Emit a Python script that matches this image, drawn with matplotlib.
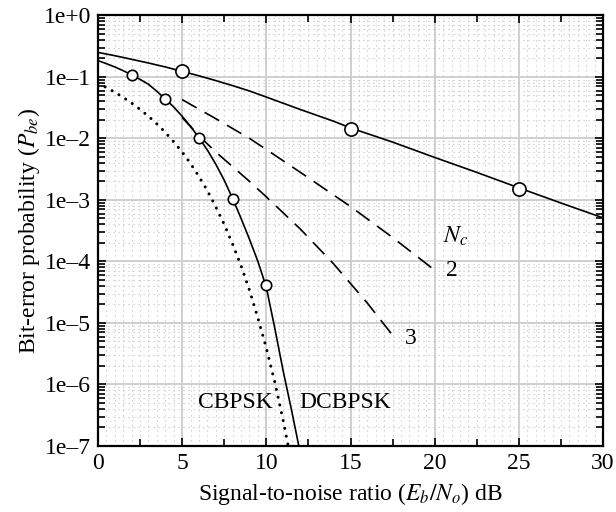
import numpy as np
import matplotlib
matplotlib.use("Agg")
import matplotlib.pyplot as plt
from matplotlib.ticker import FixedLocator, NullFormatter

plt.rcParams['font.family'] = ['Liberation Serif', 'DejaVu Serif']
plt.rcParams['mathtext.fontset'] = 'stix'

# Rayleigh-fading curve (solid, large circles)
snr_fade = [0, 1, 2, 3, 4, 5, 6, 7, 8, 9, 10, 12, 14, 15, 17.5, 20, 22.5, 25, 27.5, 30]
pbe_fade = [0.25, 0.221, 0.193, 0.168, 0.145, 0.123, 0.104, 0.087, 0.072, 0.059,
            0.047, 0.0296, 0.0190, 0.0148, 0.0087, 0.0049, 0.0028, 0.00157, 0.00089, 0.00051]
snr_fade_mk = [5, 15, 25]
pbe_fade_mk = [0.125, 0.0144, 0.00149]

# DCBPSK (solid, small circles)
snr_dc = [0, 0.5, 1, 1.5, 2, 2.5, 3, 3.5, 4, 4.5, 5, 5.5, 6, 6.5, 7, 7.5, 8, 8.5,
          9, 9.5, 10, 10.5, 11, 11.5, 11.93]
pbe_dc = [0.184, 0.164, 0.145, 0.126, 0.108, 0.091, 0.0759, 0.0582, 0.0437, 0.0324,
          0.0229, 0.0157, 0.0102, 0.00646, 0.00380, 0.00209, 0.00105, 0.000501,
          0.000229, 0.000100, 3.8e-5, 8.3e-6, 1.66e-6, 3.8e-7, 1.0e-7]
snr_dc_mk = [2, 4, 6, 8, 10]
pbe_dc_mk = [0.108, 0.044, 0.0103, 0.00104, 4.2e-5]

# CBPSK (dotted)
snr_cb = [0, 0.5, 1, 1.5, 2, 2.5, 3, 3.5, 4, 4.5, 5, 5.5, 6, 6.5, 7, 7.5, 8, 8.5,
          9, 9.5, 10, 10.5, 11, 11.3]
pbe_cb = [0.0786, 0.0671, 0.0563, 0.0464, 0.0375, 0.0296, 0.0229, 0.0172, 0.0125,
          0.0088, 0.0060, 0.0039, 0.0024, 0.00141, 0.00077, 0.00040, 0.00019,
          8.5e-5, 3.4e-5, 1.2e-5, 3.9e-6, 1.1e-6, 2.6e-7, 1.0e-7]

# Nc = 2 and Nc = 3 (dashed)
snr_nc2 = [5, 7, 9, 10, 12.5, 15, 17.5, 20]
pbe_nc2 = [0.0427, 0.0209, 0.0100, 0.0066, 0.00229, 0.00078, 0.000245, 7.2e-5]
snr_nc3 = [5, 6, 7, 8, 9, 10, 12, 14, 16, 17.5]
pbe_nc3 = [0.0219, 0.0110, 0.0060, 0.00347, 0.00200, 0.00112, 0.00034, 9.1e-5,
           2.1e-5, 6.3e-6]

ytick_vals = [1e0, 1e-1, 1e-2, 1e-3, 1e-4, 1e-5, 1e-6, 1e-7]
ytick_labels = ['1e+0', '1e\u20131', '1e\u20132', '1e\u20133', '1e\u20134',
                '1e\u20135', '1e\u20136', '1e\u20137']
xtick_vals = [0, 5, 10, 15, 20, 25, 30]

FS = 17

fig = plt.figure(figsize=(6.16, 5.12), dpi=100)
ax = fig.add_axes([0.159, 0.129, 0.820, 0.841])
ax.set_yscale('log')
ax.set_xlim(0, 30)
ax.set_ylim(1e-7, 1)

# grid: dotted fine grid, solid coarse grid
for xv in np.arange(0.5, 30, 0.5):
    if xv % 5 != 0:
        ax.axvline(xv, color='#c0c0c0', lw=0.8, ls=(0, (1, 3.5)), zorder=0)
for dec in range(-7, 0):
    for m in range(2, 10):
        ax.axhline(m * 10.0 ** dec, color='#c0c0c0', lw=0.8, ls=(0, (1, 3.5)), zorder=0)
for xv in range(5, 30, 5):
    ax.axvline(xv, color='#cccccc', lw=1.3, zorder=0.5)
for dec in range(-6, 0):
    ax.axhline(10.0 ** dec, color='#cccccc', lw=1.3, zorder=0.5)

lc = 'black'
ax.plot(snr_fade, pbe_fade, color=lc, lw=1.2, zorder=3)
ax.plot(snr_fade_mk, pbe_fade_mk, 'o', ms=9.5, mfc='white', mec=lc, mew=1.2, zorder=4)
ax.plot(snr_dc, pbe_dc, color=lc, lw=1.2, zorder=3)
ax.plot(snr_dc_mk, pbe_dc_mk, 'o', ms=7.5, mfc='white', mec=lc, mew=1.2, zorder=4)
ax.plot(snr_cb, pbe_cb, color=lc, lw=2.2, ls=(0, (0.01, 2.6)),
        dash_capstyle='round', zorder=3)
ax.plot(snr_nc2, pbe_nc2, color=lc, lw=1.2, ls=(0, (10, 5.5)), zorder=3)
ax.plot(snr_nc3, pbe_nc3, color=lc, lw=1.2, ls=(0, (10, 5.5)), zorder=3)

ax.text(20.5, 2.6e-4, '$N_c$', fontsize=FS, ha='left', va='center')
ax.text(20.7, 7.2e-5, '2', fontsize=FS, ha='left', va='center')
ax.text(18.2, 5.5e-6, '3', fontsize=FS, ha='left', va='center')
ax.text(10.4, 5.0e-7, 'CBPSK', fontsize=FS, ha='right', va='center')
ax.text(11.95, 5.0e-7, 'DCBPSK', fontsize=FS, ha='left', va='center')

ax.yaxis.set_major_locator(FixedLocator(ytick_vals))
ax.set_yticklabels(ytick_labels)
minor_y = [m * 10.0 ** d for d in range(-7, 0) for m in range(2, 10)]
ax.yaxis.set_minor_locator(FixedLocator(minor_y))
ax.yaxis.set_minor_formatter(NullFormatter())
ax.xaxis.set_major_locator(FixedLocator(xtick_vals))
ax.set_xticklabels([str(v) for v in xtick_vals])
ax.xaxis.set_minor_locator(FixedLocator([2.5, 7.5, 12.5, 17.5, 22.5, 27.5]))

ax.tick_params(which='both', direction='in', top=True, right=True, labelsize=FS,
               width=1.2, color='black')
ax.tick_params(which='major', length=6, pad=5)
ax.tick_params(which='minor', length=5)
for s in ax.spines.values():
    s.set_linewidth(1.6)

ax.set_xlabel('Signal-to-noise ratio ($E_b/N_o$) dB', fontsize=FS, labelpad=5)
ax.set_ylabel('Bit-error probability ($P_{be}$)', fontsize=FS, labelpad=1)

fig.savefig('out.png', dpi=100)
